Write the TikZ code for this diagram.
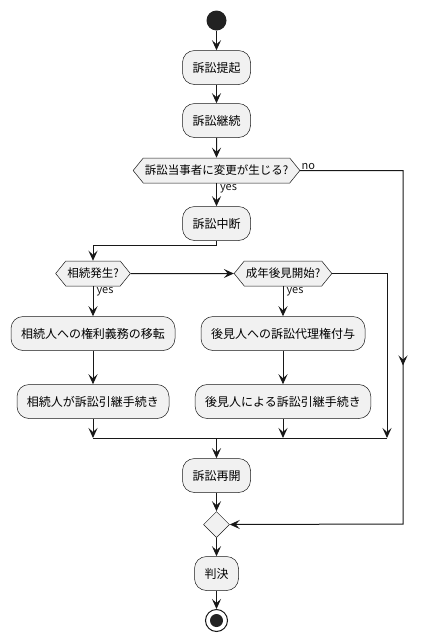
\documentclass[tikz,border=0pt]{standalone}
\usepackage{fontspec}
\setmainfont{Noto Sans CJK JP}
\usepackage{xcolor}
\usepackage{tikz}
\usetikzlibrary{positioning, arrows.meta, decorations.markings, shapes.geometric, shapes.symbols}

\definecolor{umlline}{HTML}{181818}
\definecolor{umlfill}{HTML}{F1F1F1}
\definecolor{umldot}{HTML}{222222}

\begin{document}
\begin{tikzpicture}[
		font=\fontsize{12pt}{14pt}\selectfont,
		>={Stealth[length=10pt, width=9pt, inset=4pt]},
		activity/.style={draw=umlline, line width=0.5pt, fill=umlfill, rectangle,
				rounded corners=12pt, minimum height=34pt, inner xsep=10pt},
		choice/.style={draw=umlline, line width=0.5pt, fill=umlfill, signal,
				signal to=west and east, signal pointer angle=102, minimum height=25pt,
				inner xsep=1.5pt, inner ysep=0pt, font=\fontsize{11.5pt}{13pt}\selectfont},
		flow/.style={draw=umlline, line width=1pt, ->},
		guard/.style={font=\fontsize{11pt}{13pt}\selectfont, inner sep=1pt, text=umlline}
	]
	\useasboundingbox (0,0) rectangle (428pt,-641pt);

	% Nodes
	\node (start) [circle, fill=umldot, minimum size=20pt, inner sep=0pt] at (216.5pt,-20.5pt) {};
	\node (filing) [activity, node distance=47pt, below of=start] {訴訟提起};
	\node (cont) [activity, node distance=53pt, below of=filing] {訴訟継続};
	\node (partychange) [choice, node distance=50pt, below of=cont] {訴訟当事者に変更が生じる?};
	\node (suspend) [activity, node distance=53pt, below of=partychange] {訴訟中断};
	\node (inherit) [choice, node distance=50pt, below of=suspend, xshift=-123.5pt] {相続発生?};
	\node (guardian) [choice, node distance=190pt, right of=inherit] {成年後見開始?};
	\node (transfer) [activity, node distance=60pt, below of=inherit] {相続人への権利義務の移転};
	\node (heirtakeover) [activity, node distance=68pt, below of=transfer] {相続人が訴訟引継手続き};
	\node (proxy) [activity, node distance=60pt, below of=guardian] {後見人への訴訟代理権付与};
	\node (guardtakeover) [activity, node distance=68pt, below of=proxy] {後見人による訴訟引継手続き};
	\node (resume) [activity, node distance=252pt, below of=suspend] {訴訟再開};
	\node (merge) [diamond, draw=umlline, line width=0.5pt, fill=umlfill, minimum size=26pt,
		inner sep=0pt, node distance=49pt, below of=resume] {};
	\node (verdict) [activity, node distance=49pt, below of=merge] {判決};
	\node (stop) [circle, draw=umlline, line width=1pt, fill=white, minimum size=22pt, inner sep=0pt,
		node distance=47pt, below of=verdict,
		path picture={\fill[umldot] (path picture bounding box.center) circle (6.5pt);}] {};

	\coordinate (join) at (216.5pt,-438pt);
	\coordinate (joinright) at (387pt,-438pt);
	\coordinate (nocorner) at (403pt,-524pt);

	% Arrows
	\draw[flow] (start) -- (filing);
	\draw[flow] (filing) -- (cont);
	\draw[flow] (cont) -- (partychange);
	\draw[flow] (partychange.south) node[guard, anchor=north west, xshift=2pt] {yes} -- (suspend);
	\draw[flow] (suspend.south) -- ++(0,-5pt) -| (inherit.north);
	\draw[flow] (inherit) -- (guardian);
	\draw[flow] (inherit.south) node[guard, anchor=north west, xshift=2pt] {yes} -- (transfer);
	\draw[flow] (transfer) -- (heirtakeover);
	\draw[flow] (guardian.south) node[guard, anchor=north west, xshift=2pt] {yes} -- (proxy);
	\draw[flow] (proxy) -- (guardtakeover);

	% merge of the branches
	\draw[flow] (heirtakeover) -- (heirtakeover |- join);
	\draw[flow] (guardtakeover) -- (guardtakeover |- join);
	\draw[flow] (guardian.east) -| (joinright);
	\draw[umlline, line width=1pt] (heirtakeover |- join) -- (joinright);
	\draw[flow] (join) -- (resume);

	% no branch
	\draw[flow, postaction={decorate, decoration={markings,
						mark=at position 0.473 with {\arrow{>}}}}]
	(partychange.east) node[guard, anchor=south west, yshift=-1pt] {no} -| (nocorner) -- (merge.east);

	\draw[flow] (resume) -- (merge);
	\draw[flow] (merge) -- (verdict);
	\draw[flow] (verdict) -- (stop);
\end{tikzpicture}
\end{document}
